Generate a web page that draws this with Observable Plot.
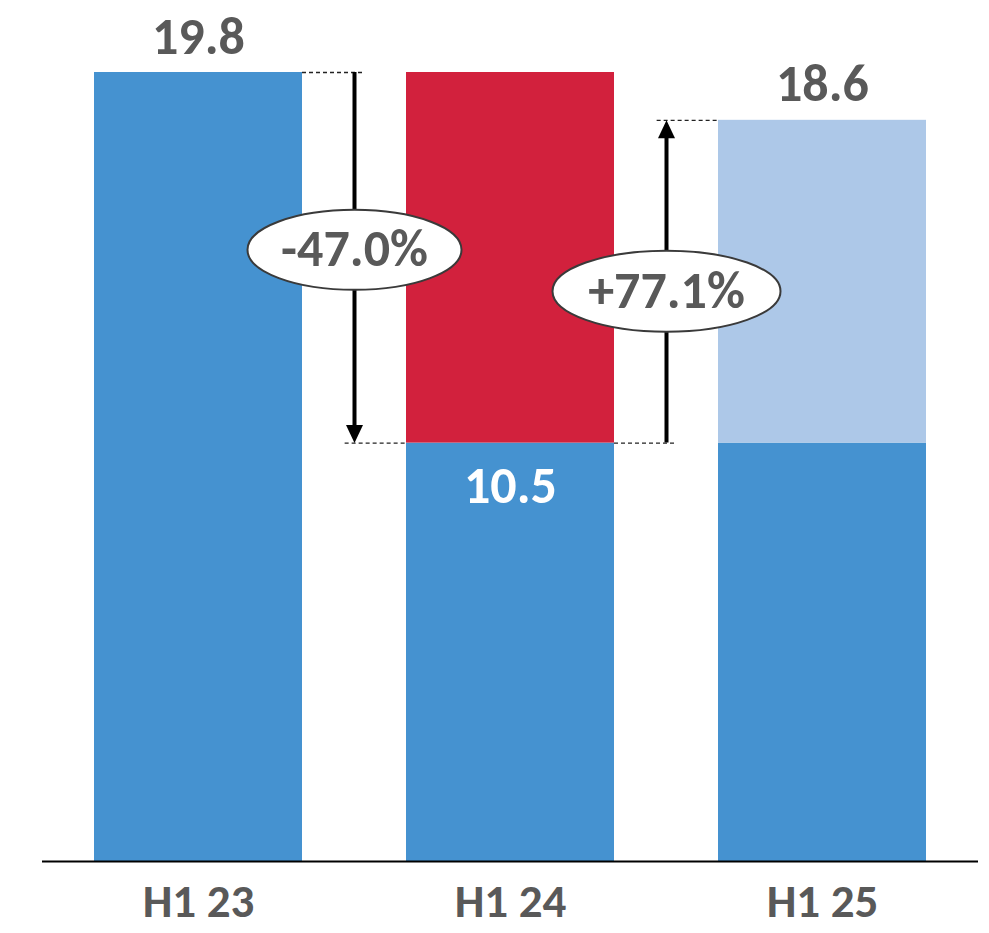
<!DOCTYPE html>
<html>
<head>
<meta charset="utf-8">
<script src="https://cdn.jsdelivr.net/npm/d3@7"></script>
<script src="https://cdn.jsdelivr.net/npm/@observablehq/plot@0.6"></script>
<style>
  html, body { margin: 0; padding: 0; background: #fff; }
  #chart svg { display: block; }
</style>
</head>
<body>
<div id="chart"></div>
<script>
// Half-year periods and the value reached in each
const periods = ["H1 23", "H1 24", "H1 25"];
const values = [19.8, 10.5, 18.6];

// Period-over-period changes shown with arrows and callouts
const changes = [
  { from: 0, to: 1 },
  { from: 1, to: 2 }
];

const blue = "#4592d0";
const red = "#d2213d";
const lightBlue = "#adc8e8";
const gray = "#595959";
const font = "Carlito, Lato, 'Open Sans', sans-serif";

const half = 1 / 3; // half bar width in x units (one unit per period)

// Stacked segments: the common base in blue, the drop in red, the recovery in light blue
const segments = [
  { i: 0, y1: 0, y2: values[0], fill: blue },
  { i: 1, y1: 0, y2: values[1], fill: blue },
  { i: 1, y1: values[1], y2: values[0], fill: red },
  { i: 2, y1: 0, y2: values[1], fill: blue },
  { i: 2, y1: values[1], y2: values[2], fill: lightBlue }
];

const changeRows = changes.map(c => {
  const pct = (values[c.to] - values[c.from]) / values[c.from] * 100;
  return {
    ...c,
    x: c.from + 0.5,
    yFrom: values[c.from],
    yTo: values[c.to],
    yHigh: Math.max(values[c.from], values[c.to]),
    yLow: Math.min(values[c.from], values[c.to]),
    mid: (values[c.from] + values[c.to]) / 2,
    up: values[c.to] > values[c.from],
    label: (pct > 0 ? "+" : "") + pct.toFixed(1) + "%"
  };
});

// Filled arrowheads with the tip at the origin
const headUp = {
  draw(ctx) { ctx.moveTo(0, 0); ctx.lineTo(8.5, 18); ctx.lineTo(-8.5, 18); ctx.closePath(); }
};
const headDown = {
  draw(ctx) { ctx.moveTo(0, 0); ctx.lineTo(8.5, -18); ctx.lineTo(-8.5, -18); ctx.closePath(); }
};
// Ellipse drawn with four cubic Bézier arcs
function ellipse(rx, ry) {
  const k = 0.5523;
  return {
    draw(ctx) {
      ctx.moveTo(rx, 0);
      ctx.bezierCurveTo(rx, ry * k, rx * k, ry, 0, ry);
      ctx.bezierCurveTo(-rx * k, ry, -rx, ry * k, -rx, 0);
      ctx.bezierCurveTo(-rx, -ry * k, -rx * k, -ry, 0, -ry);
      ctx.bezierCurveTo(rx * k, -ry, rx, -ry * k, rx, 0);
      ctx.closePath();
    }
  };
}
const calloutShape = [ellipse(107, 40), ellipse(114, 40.5)];
const calloutNudge = [-8, 9.5];

const changeMarks = changeRows.flatMap((c, k) => [
  // dashed guides from the bars to the arrow
  Plot.ruleY([c], {
    y: "yFrom", x1: d => d.from + half, x2: d => d.x + 0.03,
    stroke: "#222", strokeWidth: 1.3, strokeDasharray: "4,3"
  }),
  Plot.ruleY([c], {
    y: "yTo", x1: d => d.x - 0.03, x2: d => d.to - half,
    stroke: "#222", strokeWidth: 1.3, strokeDasharray: "4,3"
  }),
  // arrow shaft, stopping short of the arrowhead
  Plot.ruleX([c], {
    x: "x", y1: "yHigh", y2: "yLow", stroke: "#000", strokeWidth: 4,
    insetTop: c.up ? 12 : 0, insetBottom: c.up ? 0 : 12
  }),
  // arrowhead
  Plot.dot([c], {
    x: "x", y: "yTo", symbol: c.up ? headUp : headDown,
    fill: "#000", stroke: "none"
  }),
  // callout
  Plot.dot([c], {
    x: "x", y: "mid", dy: calloutNudge[k], symbol: calloutShape[k],
    fill: "#fff", stroke: "#3a3a3a", strokeWidth: 2
  }),
  Plot.text([c], {
    x: "x", y: "mid", dy: calloutNudge[k], text: "label",
    fill: gray, fontSize: 52, fontWeight: 700, fontFamily: font,
    lineAnchor: "middle", textAnchor: "middle"
  })
]);

const idx = periods.map((_, i) => i);

const chart = Plot.plot({
  width: 989,
  height: 933,
  marginLeft: 42,
  marginRight: 11,
  marginTop: 72,
  marginBottom: 72,
  style: { fontFamily: font, background: "#fff" },
  x: { type: "linear", domain: [-0.5, periods.length - 0.5] },
  y: { domain: [0, d3.max(values)], axis: null },
  marks: [
    Plot.rectY(segments, {
      x1: d => d.i - half, x2: d => d.i + half,
      y1: "y1", y2: "y2", fill: d => d.fill
    }),
    Plot.ruleY([0], { stroke: "#000", strokeWidth: 2 }),
    // value labels: above the first and last bars, inside the middle bar
    Plot.text(idx.filter(i => i !== 1), {
      x: i => i, y: i => values[i], text: i => values[i].toFixed(1),
      dy: -19, lineAnchor: "bottom", fill: gray,
      fontSize: 52, fontWeight: 700, fontFamily: font
    }),
    Plot.text([1], {
      x: i => i, y: i => values[i], text: i => values[i].toFixed(1),
      dy: 60, lineAnchor: "bottom", fill: "#fff",
      fontSize: 52, fontWeight: 700, fontFamily: font
    }),
    ...changeMarks,
    Plot.axisX({
      ticks: idx, tickFormat: i => periods[i], tickSize: 0, tickPadding: 22,
      label: null, fontSize: 47, fontWeight: 700, fill: gray, fontFamily: font
    })
  ]
});

document.getElementById("chart").appendChild(chart);
</script>
</body>
</html>
